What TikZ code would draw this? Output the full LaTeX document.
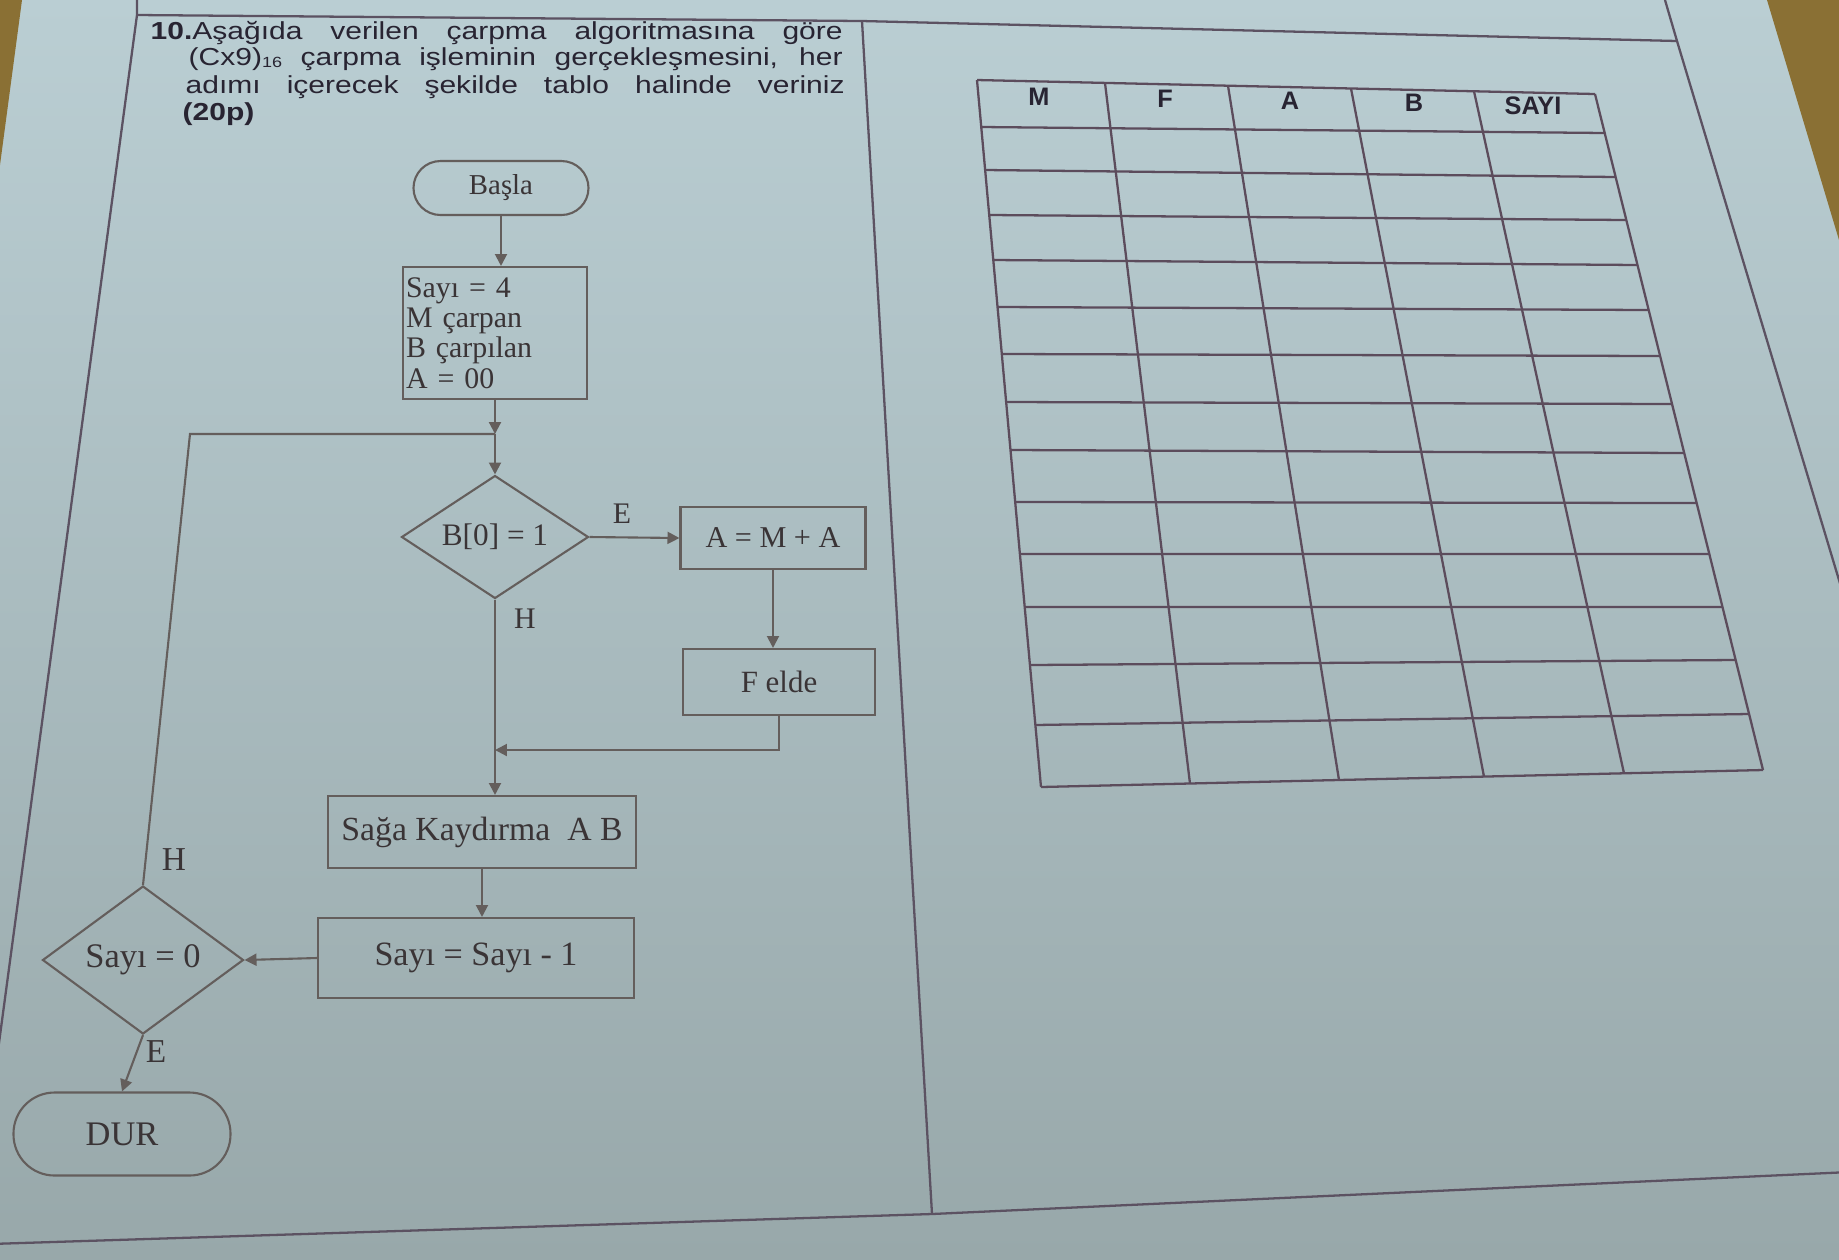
\documentclass[tikz,border=0pt]{standalone}
\usepackage{fontspec}
\setmainfont{Liberation Serif}
\newfontfamily\hdrfont[FakeStretch=1.22]{Liberation Sans}
\newfontfamily\colfont{Liberation Sans}
\usetikzlibrary{shapes.geometric,arrows.meta,calc}

\definecolor{paperTop}{RGB}{186,206,211}
\definecolor{paperBot}{RGB}{152,168,170}
\definecolor{wood}{RGB}{138,112,52}
\definecolor{lineC}{RGB}{100,94,92}
\definecolor{frameC}{RGB}{92,82,98}
\definecolor{gridC}{RGB}{92,76,92}
\definecolor{txtC}{RGB}{58,52,54}
\definecolor{hdrC}{RGB}{40,36,50}

\newcommand\fcsize[1]{\fontsize{#1}{#1}\selectfont}

\begin{document}
\begin{tikzpicture}[x=0.1mm,y=-0.1mm,
  flow/.style={draw=lineC, line width=0.6pt, text=txtC, inner sep=0pt},
  boxS/.style={flow, rectangle},
  term/.style={flow, rectangle, rounded corners=#1},
  decision/.style={flow, diamond, aspect=1.5},
  conn/.style={draw=lineC, line width=0.6pt},
  arr/.style={conn, -{Triangle[length=3.4pt,width=3.4pt]}},
  lbl/.style={text=txtC, inner sep=0pt},
  frame/.style={draw=frameC, line width=0.65pt},
  grid/.style={draw=gridC, line width=0.65pt},
  hdr/.style={text=hdrC, inner sep=0pt, font=\hdrfont\fontsize{7}{7.7}\selectfont},
  colhead/.style={text=hdrC, inner sep=0pt, font=\colfont\bfseries\fontsize{7.2}{7.2}\selectfont}
]
\useasboundingbox (0,0) rectangle (1839,1259);

% ---------- paper, desk and printed frame ----------
\begin{scope}
\clip (0,0) rectangle (1839,1259);
\shade[top color=paperTop, bottom color=paperBot] (0,0) rectangle (1839,1259);
\fill[wood] (0,0) -- (22,0) -- (0,165) -- cycle;
\fill[wood] (1767,0) -- (1839,0) -- (1839,240) -- cycle;

\coordinate (fTL) at (137,15);
\coordinate (fTM) at (862,21);
\coordinate (fTR) at (1677,41);
\coordinate (fBM) at (932,1214);
\draw[frame] (137,0) -- (fTL) -- (-30,1259);
\draw[frame] (fTL) -- (fTM) -- (fTR);
\draw[frame] (1665,0) -- (fTR) -- (1845,600);
\draw[frame] (fTM) -- (fBM);
\draw[frame] (-10,1244) -- (fBM) -- (1850,1172);
\end{scope}

% ---------- question text ----------
\node[hdr, anchor=base west] (q1) at (150,39)
  {\makebox[69.2mm][s]{\textbf{10.}Aşağıda verilen çarpma algoritmasına göre}};
\node[hdr, anchor=base west] (q2) at (188,65)
  {\makebox[65.4mm][s]{(Cx9){\fontsize{4.2}{4}\selectfont\raisebox{-0.35ex}{16}} çarpma işleminin gerçekleşmesini, her}};
\node[hdr, anchor=base west] (q3) at (185,93)
  {\makebox[65.9mm][s]{adımı içerecek şekilde tablo halinde veriniz}};
\node[hdr, anchor=base west] (q4) at (182,120) {\textbf{(20p)}};

% ---------- flowchart ----------
\node[term=2.7mm, minimum width=17.5mm, minimum height=5.4mm, font=\fcsize{8.2}] (basla) at (501,188) {Başla};
\node[boxS, text width=17.8mm, inner xsep=0.3mm, minimum height=13.2mm, align=left,
      font=\fontsize{8.5}{8.6}\selectfont] (init) at (495,333)
  {Sayı = 4\\M çarpan\\B çarpılan\\A = 00};
\node[decision, minimum width=18.7mm, minimum height=12.3mm, font=\fcsize{8.9}] (d1) at (495,537) {B[0] = 1};
\node[boxS, minimum width=18.5mm, minimum height=6.2mm, font=\fcsize{8.6}] (amb) at (773,538) {A = M + A};
\node[boxS, minimum width=19.2mm, minimum height=6.6mm, font=\fcsize{8.8}] (felde) at (779,682) {F elde};
\node[boxS, minimum width=30.8mm, minimum height=7.2mm, font=\fcsize{9.6}] (sag) at (482,832) {Sağa Kaydırma\ \ A B};
\node[boxS, minimum width=31.6mm, minimum height=8.0mm, font=\fcsize{9.7}] (dec) at (476,958) {Sayı = Sayı - 1};
\node[decision, minimum width=20.1mm, minimum height=14.8mm, font=\fcsize{9.8}] (d2) at (143,960) {Sayı = 0};
\node[term=4.1mm, minimum width=21.7mm, minimum height=8.3mm, font=\fcsize{9.8}] (dur) at (122,1134) {DUR};

\coordinate (J) at (495,434);
\coordinate (L) at (190,434);
\coordinate (M2) at (495,750);

\draw[arr] (basla.south) -- (basla.south |- init.north);
\draw[arr] (init.south) -- (J);
\draw[arr] (J) -- (d1.north);
\draw[arr] (d1.east) -- (amb.west);
\draw[arr] (amb.south) -- (amb.south |- felde.north);
\draw[arr] (felde.south) |- (M2);
\draw[arr] (d1.south) -- (d1.south |- sag.north);
\draw[arr] (sag.south) -- (sag.south |- dec.north);
\draw[arr] (dec.west) -- (d2.east);
\draw[arr] (d2.south) -- (dur.north);
\draw[conn] (d2.north) -- (L) -- (J);

\node[lbl, font=\fcsize{8.5}] (lE1) at (622,514) {E};
\node[lbl, font=\fcsize{8.5}] (lH1) at (525,619) {H};
\node[lbl, font=\fcsize{9.5}] (lH2) at (174,860) {H};
\node[lbl, font=\fcsize{9.5}] (lE2) at (156,1052) {E};

% ---------- answer table ----------
\coordinate (TL) at (977,80);
\coordinate (TR) at (1595,94);
\coordinate (BL) at (1041,787);
\coordinate (BR) at (1763,770);
\foreach \yl/\yr in {80/94,127/133,170/177,215/220,260/265,307/310,354/356,402/404,
                     450/453,502/503,554/554,607/607,665/660,725/714,787/770}
  \draw[grid] ($(TL)!{(\yl-80)/707}!(BL)$) -- ($(TR)!{(\yr-94)/676}!(BR)$);
\foreach \xt/\xb in {977/1041,1105/1190,1228/1339,1351/1484,1474/1624,1595/1763}
  \draw[grid] ($(TL)!{(\xt-977)/618}!(TR)$) -- ($(BL)!{(\xb-1041)/722}!(BR)$);

\node[colhead] (hM) at (1039,97) {M};
\node[colhead] (hF) at (1165,99) {F};
\node[colhead] (hA) at (1290,101) {A};
\node[colhead] (hB) at (1414,103) {B};
\node[colhead] (hS) at (1533,106) {SAYI};
\end{tikzpicture}
\end{document}
